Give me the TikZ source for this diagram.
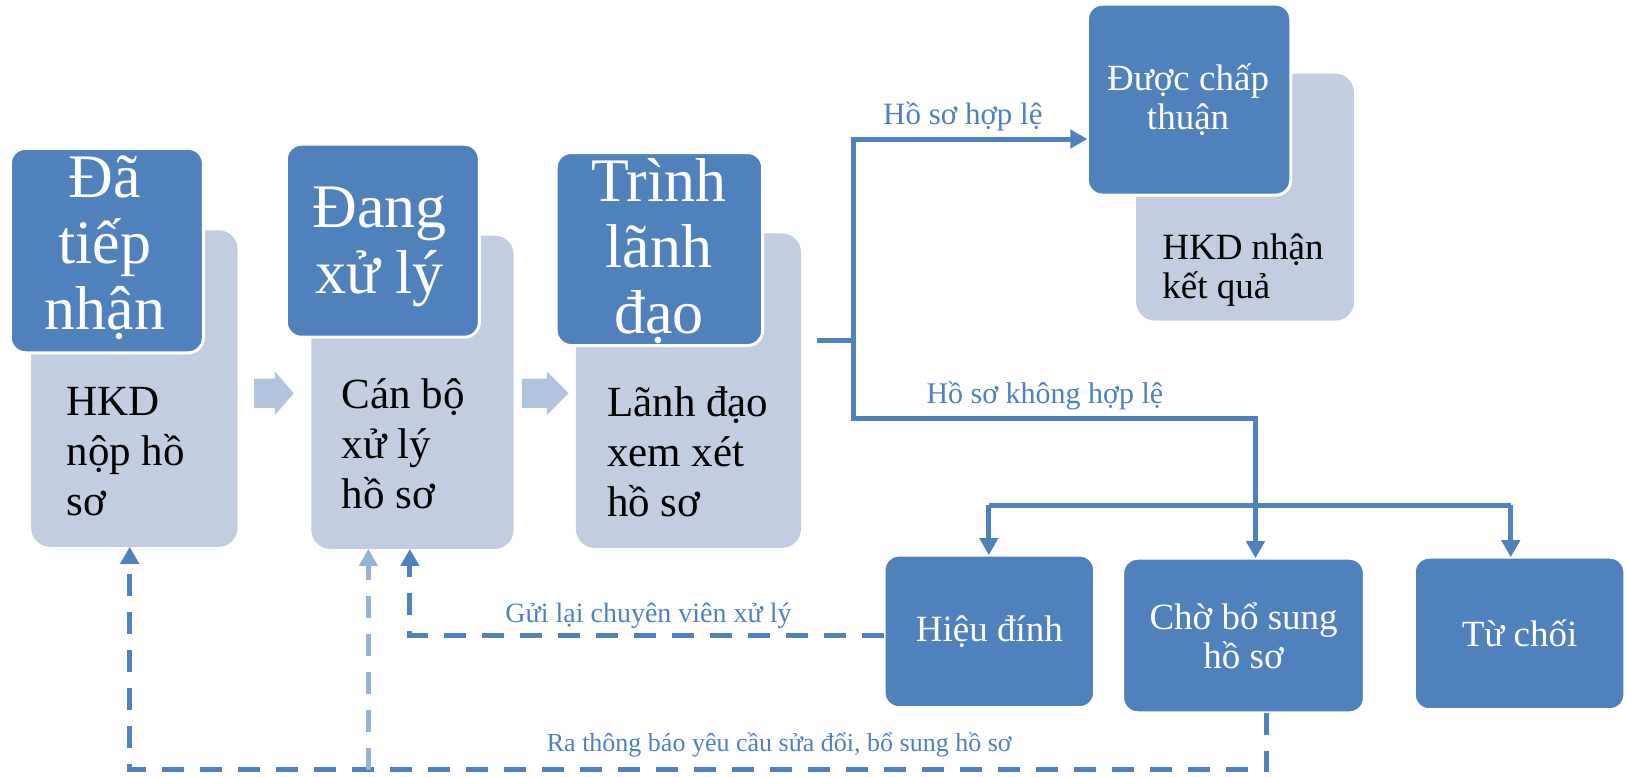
\documentclass[tikz,border=0pt]{standalone}
\usepackage{fontspec}
\setmainfont{Liberation Serif}
\usetikzlibrary{arrows.meta}
\definecolor{dk}{RGB}{79,129,189}
\definecolor{lt}{RGB}{195,205,226}
\definecolor{blk}{RGB}{178,195,222}
\definecolor{pale}{RGB}{149,179,215}
\newcommand\hdf{\fontsize{62}{66}\selectfont}
\newcommand\bdf{\fontsize{43}{50}\selectfont}
\newcommand\smf{\fontsize{37}{39}\selectfont}
\newcommand\ctrlines[1]{\vtop{\halign{\hfil##\hfil\cr#1\crcr}}}
\newcommand\leftlines[1]{\vtop{\halign{##\hfil\cr#1\crcr}}}
\def\S{1.0376}
\tikzset{
  sz/.style 2 args={minimum width={\S*#1}, minimum height={\S*#2}},
  lightbox/.style={fill=lt, rounded corners=19pt, inner sep=0pt, outer sep=0pt, anchor=north west},
  darkbox/.style={fill=dk, draw=white, line width=3pt, rounded corners=15pt, inner sep=0pt, outer sep=0pt, anchor=north west},
  hdtext/.style={text=white, font=\hdf, inner sep=0pt, anchor=base},
  wtext/.style={text=white, font=\smf, inner sep=0pt, anchor=base},
  bdtext/.style={text=black, font=\bdf, inner sep=0pt, anchor=base west},
  lbl/.style={text=dk, inner sep=0pt},
  conn/.style={draw=dk, line width=5pt},
  arr/.style={conn, -{Triangle[length=17pt,width=18pt]}},
  darr/.style={arr, dash pattern=on 22pt off 16pt},
  parr/.style={draw=pale, line width=5pt, dash pattern=on 22pt off 16pt, -{Triangle[length=17pt,width=18pt]}},
}
\begin{document}
\begin{tikzpicture}[x=\S pt,y=-\S pt]
\useasboundingbox (0,0) rectangle (1568.04,748.84);
% light boxes
\node[lightbox, sz={199}{305}] (L1) at (30,222) {};
\node[lightbox, sz={195}{302}] (L2) at (300,227) {};
\node[lightbox, sz={217}{303}] (L3) at (555,225) {};
\node[lightbox, sz={210}{238}] (L4) at (1095,71) {};
% dark headers
\node[darkbox, sz={186}{197}] (D1) at (10,143) {};
\node[darkbox, sz={186}{186}] (D2) at (276,139) {};
\node[darkbox, sz={199}{186}] (D3) at (536,147) {};
\node[darkbox, sz={196}{184}] (D4) at (1048,4) {};
% bottom boxes
\node[darkbox, sz={203}{147}] (B1) at (852,535) {};
\node[darkbox, sz={233}{149}] (B2) at (1082,538) {};
\node[darkbox, sz={203}{147}] (B3) at (1363,537) {};
% header texts
\node[hdtext] (t1) at (101,190) {\ctrlines{Đã\cr tiếp\cr nhận}};
\node[hdtext] (t2) at (366,219) {\ctrlines{Đang\cr xử lý}};
\node[hdtext] (t3) at (635,194) {\ctrlines{Trình\cr lãnh\cr đạo}};
\node[wtext] (t4) at (1145,87) {\ctrlines{Được chấp\cr thuận}};
% body texts
\node[bdtext] (s1) at (64,400) {\leftlines{HKD\cr nộp hồ\cr sơ}};
\node[bdtext] (s2) at (329,394) {\leftlines{Cán bộ\cr xử lý\cr hồ sơ}};
\node[bdtext] (s3) at (585,401) {\leftlines{Lãnh đạo\cr xem xét\cr hồ sơ}};
\node[bdtext, font=\smf] (s4) at (1120,250) {\leftlines{HKD nhận\cr kết quả}};
% bottom texts
\node[wtext, anchor=center] (u1) at (B1.center) {Hiệu đính};
\node[wtext, anchor=center] (u2) at (B2.center) {\ctrlines{Chờ bổ sung\cr hồ sơ}};
\node[wtext, anchor=center] (u3) at (B3.center) {Từ chối};
% block arrows
\fill[blk] (245,365) -- (265,365) -- (265,358) -- (283,379) -- (265,400) -- (265,393) -- (245,393) -- cycle;
\fill[blk] (503,365) -- (527,365) -- (527,358) -- (548,379) -- (527,400) -- (527,393) -- (503,393) -- cycle;
% connectors
\coordinate (c0) at (787,328);
\coordinate (sp) at (823,328);
\coordinate (tp) at (823,134);
\coordinate (bt) at (823,403);
\coordinate (dn) at (1210,403);
\coordinate (hl) at (953,487);
\coordinate (hr) at (1456,487);
\draw[conn] (c0) -- (sp);
\draw[arr] (sp) -- (tp) -- (tp -| D4.west);
\draw[arr] (sp) -- (bt) -- (dn) -- (dn |- B2.north);
\draw[conn] (hl) -- (hr);
\draw[arr] (hl) -- (hl |- B1.north);
\draw[arr] (hr) -- (hr |- B3.north);
% dashed feedback
\coordinate (g1) at (395,612);
\draw[darr] (B1.west |- g1) -- (g1) -- (g1 |- L2.south);
\coordinate (r0) at (1221,742);
\coordinate (r1) at (125,742);
\draw[darr] (r0 |- B2.south) -- (r0) -- (r1) -- (r1 |- L1.south);
\coordinate (p0) at (355,742);
\draw[parr] (p0) -- (p0 |- L2.south);
% labels
\node[lbl, font=\fontsize{31}{34}\selectfont] (l1) at (928,112) {Hồ sơ hợp lệ};
\node[lbl, font=\fontsize{30}{33}\selectfont] (l2) at (1007,382) {Hồ sơ không hợp lệ};
\node[lbl, font=\fontsize{28}{30}\selectfont] (l3) at (625,593) {Gửi lại chuyên viên xử lý};
\node[lbl, font=\fontsize{26}{29}\selectfont] (l4) at (751,718) {Ra thông báo yêu cầu sửa đổi, bổ sung hồ sơ};
\end{tikzpicture}
\end{document}
